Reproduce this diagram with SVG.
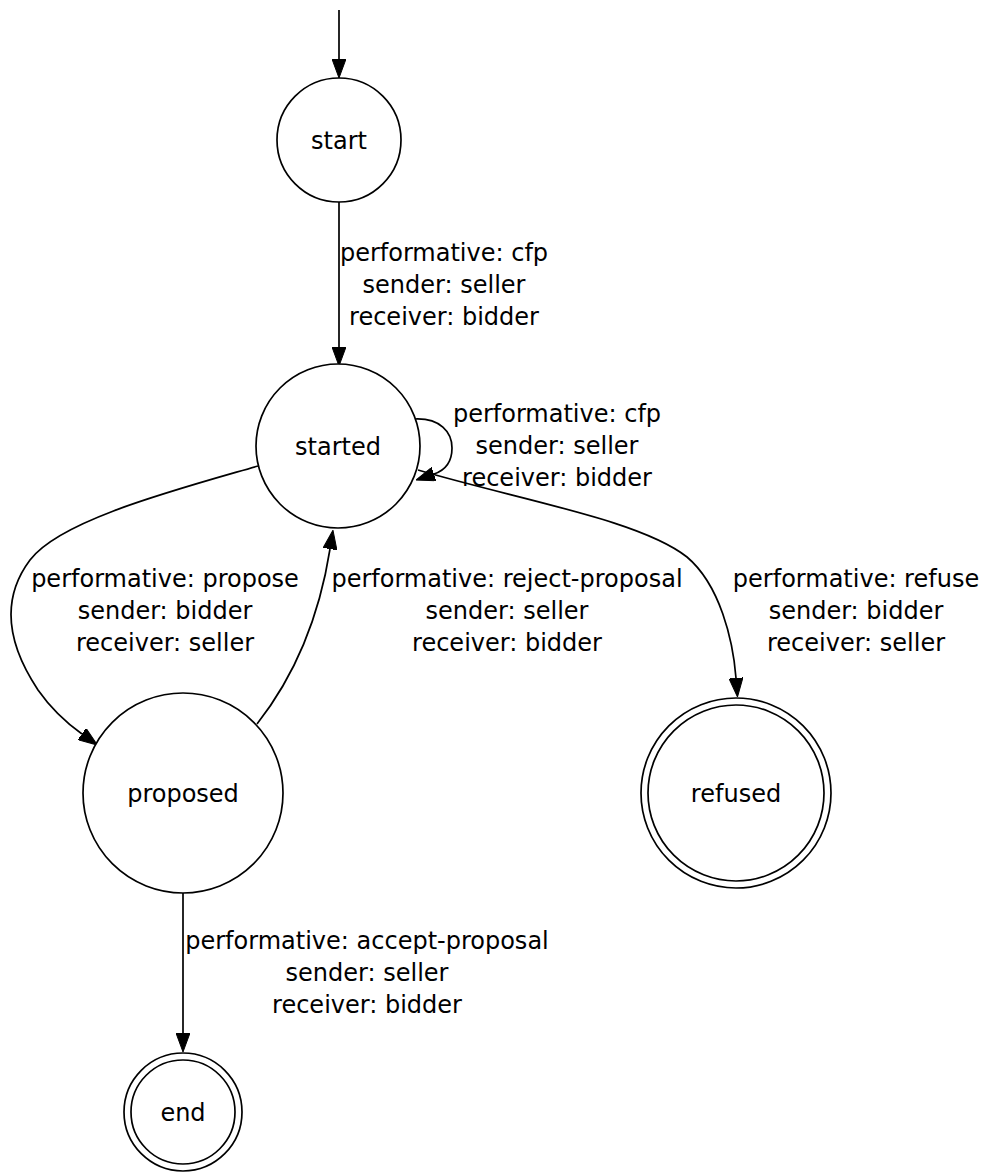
<svg xmlns="http://www.w3.org/2000/svg" width="990" height="1172" viewBox="0 0 990 1172">
  <style>
    .state { fill: #ffffff; stroke: #000000; stroke-width: 1.7; }
    .edge { fill: none; stroke: #000000; stroke-width: 1.7; marker-end: url(#arrow); }
    text { font-family: "DejaVu Sans", "Liberation Sans", sans-serif; font-size: 24px; fill: #000000; text-anchor: middle; }
  </style>
  <defs>
    <marker id="arrow" markerUnits="userSpaceOnUse" viewBox="0 0 19 14" refX="0" refY="7" markerWidth="19" markerHeight="14" orient="auto">
      <path d="M0,0 L19,7 L0,14 Z" fill="#000000" stroke="#000000" stroke-width="1"/>
    </marker>
  </defs>
  <rect width="990" height="1172" fill="#ffffff"/>

  <!-- transitions -->
  <g id="edges">
    <path class="edge" d="M339,10 L339,59"/>
    <path class="edge" d="M339,202 L339,347"/>
    <path class="edge" d="M415,419 C440,418 452,432 452,448 C452,462 446,470 434,474"/>
    <path class="edge" d="M258,466 C175,490 60,520 30,560 C0,600 8,645 38,690 C52,710 68,724 82,734"/>
    <path class="edge" d="M257,724 C290,682 318,625 330,549"/>
    <path class="edge" d="M418,470 C520,500 640,520 687,557 C720,585 733,640 736,678"/>
    <path class="edge" d="M183,893 L183,1033"/>
  </g>

  <g id="start">
    <circle class="state" cx="339" cy="140" r="62"/>
    <text x="339" y="149">start</text>
  </g>
  <g id="started">
    <circle class="state" cx="338" cy="446" r="82"/>
    <text x="338" y="455">started</text>
  </g>
  <g id="proposed">
    <circle class="state" cx="183" cy="793" r="100"/>
    <text x="183" y="802">proposed</text>
  </g>
  <g id="refused">
    <circle class="state" cx="736" cy="793" r="95"/>
    <circle class="state" cx="736" cy="793" r="88"/>
    <text x="736" y="802">refused</text>
  </g>
  <g id="end">
    <circle class="state" cx="183" cy="1112" r="59"/>
    <circle class="state" cx="183" cy="1112" r="52"/>
    <text x="183" y="1121">end</text>
  </g>

  <!-- transition labels -->
  <g id="edge-labels">
    <text x="444" y="261">performative: cfp</text>
    <text x="444" y="293">sender: seller</text>
    <text x="444" y="325">receiver: bidder</text>

    <text x="557" y="422">performative: cfp</text>
    <text x="557" y="454">sender: seller</text>
    <text x="557" y="486">receiver: bidder</text>

    <text x="165" y="587">performative: propose</text>
    <text x="165" y="619">sender: bidder</text>
    <text x="165" y="651">receiver: seller</text>

    <text x="507" y="587">performative: reject-proposal</text>
    <text x="507" y="619">sender: seller</text>
    <text x="507" y="651">receiver: bidder</text>

    <text x="856" y="587">performative: refuse</text>
    <text x="856" y="619">sender: bidder</text>
    <text x="856" y="651">receiver: seller</text>

    <text x="367" y="949">performative: accept-proposal</text>
    <text x="367" y="981">sender: seller</text>
    <text x="367" y="1013">receiver: bidder</text>
  </g>
</svg>
